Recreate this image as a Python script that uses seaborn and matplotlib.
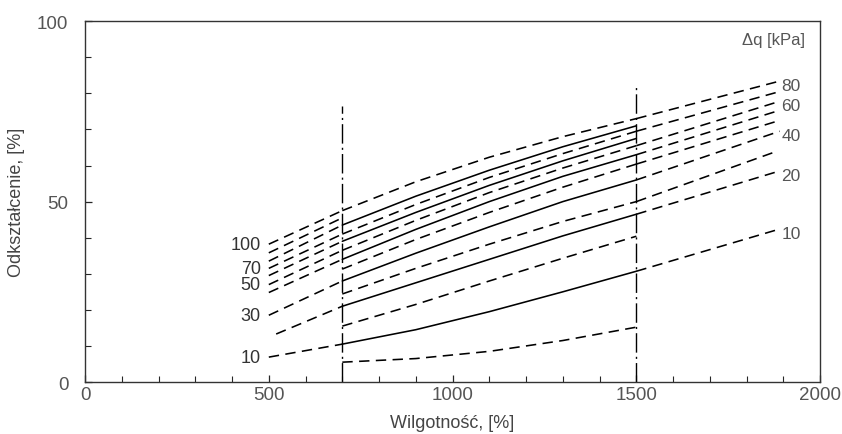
import matplotlib
matplotlib.use("Agg")
import matplotlib.pyplot as plt
import seaborn as sns
import numpy as np
from matplotlib.ticker import MultipleLocator

# ---------------- data ----------------
# middle range curves (700 - 1500)
mid_x = [700, 900, 1100, 1300, 1500]
mid_vals = [
    [5.5, 6.5, 8.5, 11.5, 15.2],
    [10.5, 14.5, 19.5, 25.0, 30.7],
    [15.5, 21.5, 28.0, 34.3, 40.4],
    [21.0, 27.5, 34.0, 40.5, 46.5],
    [24.4, 31.5, 38.2, 44.5, 50.0],
    [28.0, 35.7, 43.0, 50.0, 56.0],
    [31.3, 39.5, 47.0, 54.0, 60.4],
    [34.0, 42.3, 50.0, 57.0, 63.0],
    [36.5, 44.8, 52.5, 59.3, 65.5],
    [39.0, 47.0, 54.5, 61.3, 67.5],
    [41.0, 49.2, 56.7, 63.3, 69.5],
    [43.5, 51.5, 58.7, 65.2, 71.0],
    [47.5, 55.5, 62.3, 68.0, 73.0],
]
mid_styles = ["d", "s", "d", "s", "d", "s", "d", "s", "d", "s", "d", "s", "d"]

# left extrapolations (to 700)
left_x0 = [500, 520, 500, 500, 500, 500, 500, 500, 500, 500]
left_y0 = [6.9, 13.3, 18.5, 24.8, 27.0, 29.5, 31.5, 33.5, 35.8, 38.2]
left_y1 = [10.5, 21.0, 28.0, 34.0, 36.5, 39.0, 41.0, 43.5, 45.5, 47.5]
left_labels = ["10", "", "30", "", "50", "", "70", "", "", "100"]

# right extrapolations (from 1500)
right_x1 = [1890, 1890, 1870, 1890, 1890, 1890, 1890, 1890, 1890]
right_y0 = [30.7, 46.5, 50.0, 56.0, 60.4, 63.0, 65.5, 69.5, 73.0]
right_y1 = [42.4, 58.5, 63.5, 69.5, 72.5, 75.3, 77.8, 80.5, 83.4]
right_labels = ["10", "20", "", "40", "", "", "60", "", "80"]

boundary_x = [700, 1500]
boundary_top = [76.5, 81.7]

# ---------------- plot ----------------
sns.set_style("ticks")
plt.rcParams["font.family"] = ["Liberation Sans", "DejaVu Sans"]

fig = plt.figure(figsize=(8.42, 4.35), dpi=100)
ax = fig.add_axes([0.101, 0.1195, 0.873, 0.8295])

dash = (0, (6.5, 4))
lw = 1.15
for vals, st in zip(mid_vals, mid_styles):
    sns.lineplot(x=mid_x, y=vals, ax=ax, color="black", lw=lw,
                 linestyle="-" if st == "s" else dash, sort=False)

for x0, y0, y1, lab in zip(left_x0, left_y0, left_y1, left_labels):
    sns.lineplot(x=[x0, boundary_x[0]], y=[y0, y1], ax=ax, color="black",
                 lw=lw, linestyle=dash, sort=False)
    if lab:
        ax.text(x0 - 22, y0, lab, ha="right", va="center", fontsize=13,
                color="#333333")

for y0, x1, y1, lab in zip(right_y0, right_x1, right_y1, right_labels):
    sns.lineplot(x=[boundary_x[1], x1], y=[y0, y1], ax=ax, color="black",
                 lw=lw, linestyle=dash, sort=False)
    if lab:
        ax.text(1895, y1 - 1.2, lab, ha="left", va="center", fontsize=12.5,
                color="#555555")

for bx, bt in zip(boundary_x, boundary_top):
    ax.vlines(bx, 0, bt, colors="black", linewidth=1.0,
              linestyles=(0, (14, 3, 1.5, 3)))

ax.text(1960, 95, "\u0394q [kPa]", ha="right", va="center", fontsize=12,
        color="#555555")

ax.set_xlim(0, 2000)
ax.set_ylim(0, 100)
ax.set_xticks([0, 500, 1000, 1500, 2000])
ax.set_yticks([0, 50, 100])
ax.xaxis.set_minor_locator(MultipleLocator(100))
ax.yaxis.set_minor_locator(MultipleLocator(10))
ax.tick_params(which="major", direction="in", length=5, width=0.9,
               labelsize=13.5, labelcolor="#555555", top=False, right=False)
ax.tick_params(which="minor", direction="in", length=4, width=0.8,
               top=False, right=False)
ax.tick_params(axis="x", which="major", pad=3)
ax.tick_params(axis="y", which="major", pad=12)
ax.set_xlabel("Wilgotność, [%]", fontsize=13, color="#444444", labelpad=8)
ax.set_ylabel("Odkształcenie, [%]", fontsize=13, color="#444444", labelpad=9)
for s in ax.spines.values():
    s.set_linewidth(1.0)
    s.set_color("#333333")

fig.savefig("out.png", dpi=100)
